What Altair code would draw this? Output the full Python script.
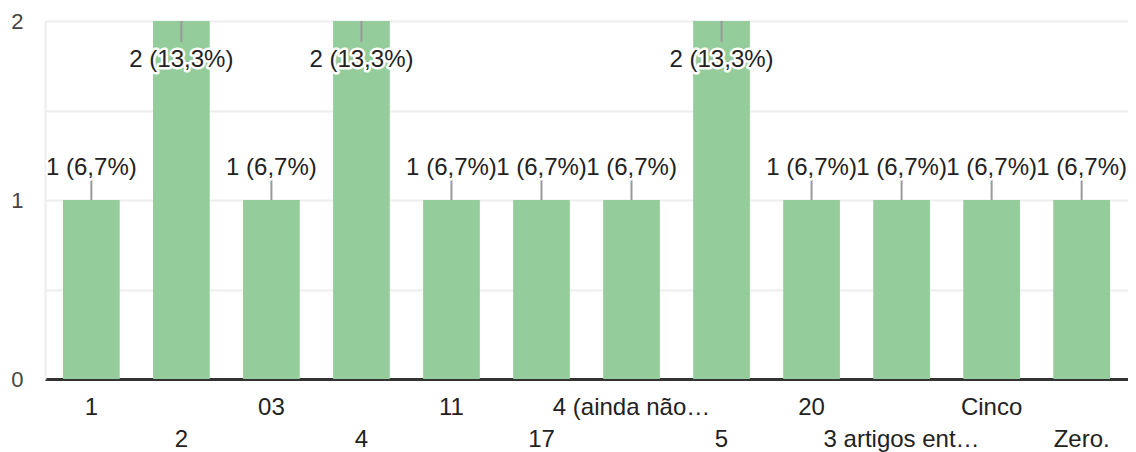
import altair as alt
import pandas as pd

categories = ["1", "2", "03", "4", "11", "17", "4 (ainda não…", "5", "20",
              "3 artigos ent…", "Cinco", "Zero."]
counts = [1, 2, 1, 2, 1, 1, 1, 2, 1, 1, 1, 1]
total = sum(counts)
labels = [f"{v} ({v / total * 100:.1f}%)".replace(".", ",") for v in counts]

df = pd.DataFrame({"cat": categories, "value": counts, "label": labels})

FONT = "Liberation Sans"
BAR = "#94cd9b"

x = alt.X("cat:N", sort=categories,
          scale=alt.Scale(domain=categories, paddingInner=0.37, paddingOuter=0.2),
          axis=alt.Axis(labels=False, ticks=False, title=None, domain=True,
                        domainColor="#333333", domainWidth=3, grid=False))
y = alt.Y("value:Q", scale=alt.Scale(domain=[0, 2], nice=False),
          axis=alt.Axis(values=[0, 0.5, 1, 1.5, 2], title=None, ticks=False,
                        labelExpr="datum.value % 1 == 0 ? format(datum.value, 'd') : ''",
                        labelFontSize=22, labelColor="#444444", labelFont=FONT,
                        labelPadding=22, gridColor="#eeeeee", gridWidth=2,
                        domainColor="#eeeeee", domainWidth=2))

base = alt.Chart(df)

bars = base.mark_bar(color=BAR).encode(x=x, y=y)

lead_low = base.transform_filter("datum.value < 2").mark_rule(
    color="#999999", strokeWidth=2, y2Offset=-21).encode(
    x=alt.X("cat:N", sort=categories), y="value:Q", y2="value:Q")
lead_high = base.transform_filter("datum.value >= 2").mark_rule(
    color="#999999", strokeWidth=2, y2Offset=21).encode(
    x=alt.X("cat:N", sort=categories), y="value:Q", y2="value:Q")

def value_text(filter_expr, dy, halo):
    props = dict(font=FONT, fontSize=24, align="center", baseline="alphabetic", dy=dy)
    if halo:
        props.update(stroke="white", strokeWidth=5, strokeJoin="round", fill="white")
    else:
        props.update(fill="#222222")
    return base.transform_filter(filter_expr).mark_text(**props).encode(
        x=alt.X("cat:N", sort=categories), y="value:Q", text="label:N")

texts = []
for halo in (True, False):
    texts.append(value_text("datum.value < 2", -25, halo))
    texts.append(value_text("datum.value >= 2", 46, halo))

def xlabels(expr, ypix):
    return base.transform_window(idx="row_number()").transform_filter(expr).mark_text(
        font=FONT, fontSize=24, fill="#222222", align="center", baseline="alphabetic").encode(
        x=alt.X("cat:N", sort=categories), y=alt.value(ypix), text="cat:N")

row1 = xlabels("datum.idx % 2 == 1", 394)
row2 = xlabels("datum.idx % 2 == 0", 426)

chart = alt.layer(bars, lead_low, lead_high, *texts, row1, row2).properties(
    width=1083, height=358,
    autosize=alt.AutoSizeParams(type="none"),
    padding={"left": 37, "top": 13, "right": 0, "bottom": 73},
).configure_view(stroke=None)

chart.save("out.html", embed_options={"renderer": "svg", "actions": False})
